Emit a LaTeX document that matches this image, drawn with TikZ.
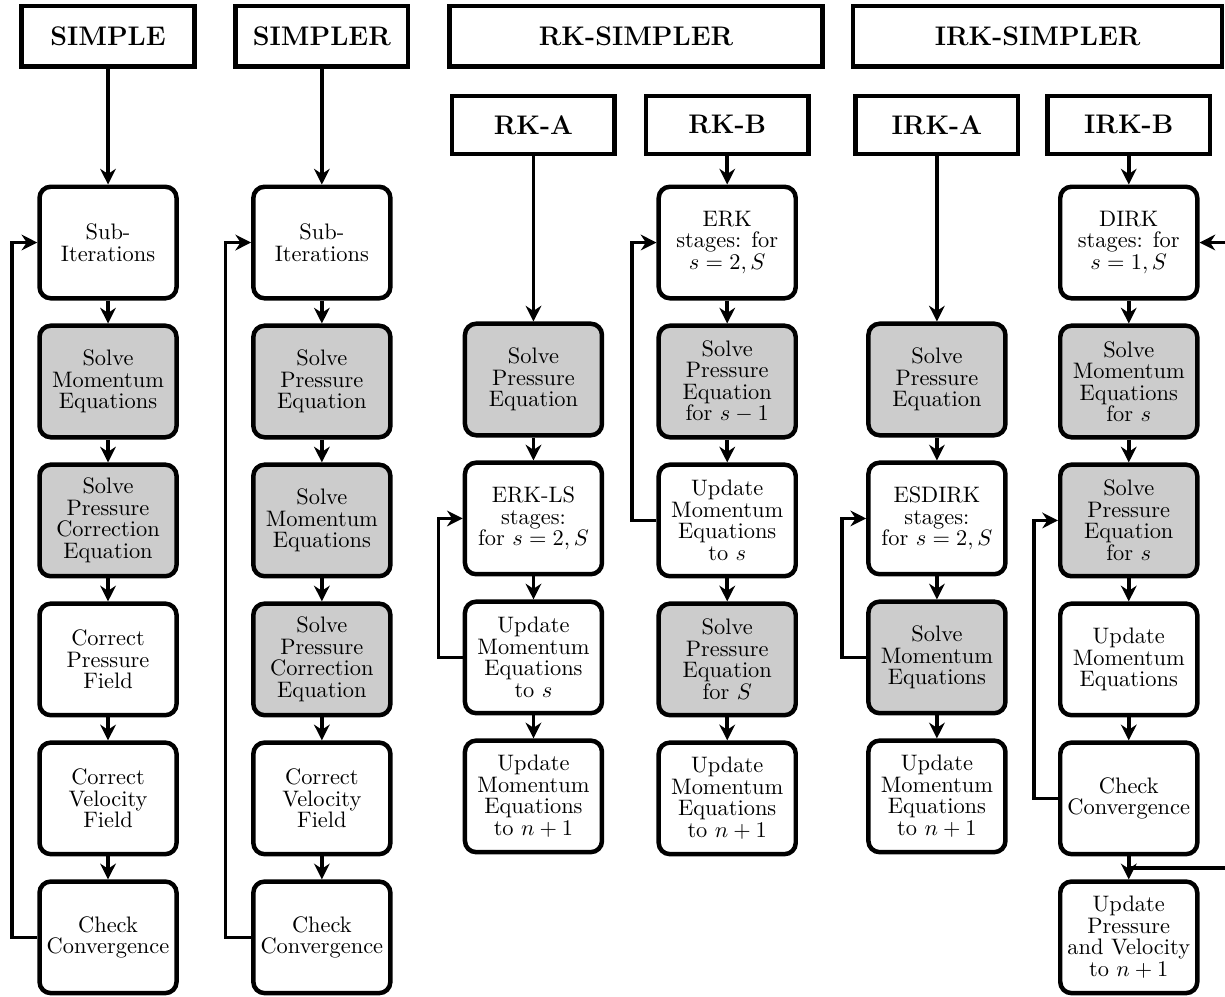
\documentclass[tikz,border=0pt]{standalone}
\usetikzlibrary{shapes.geometric, arrows.meta, positioning}

\begin{document}
\begin{tikzpicture}[node distance=0.36cm, auto]
    % Node styles for clarity
    \tikzstyle{method} = [rectangle, draw, line width=2pt, minimum height=0.95cm, font=\large\bfseries]
    \tikzstyle{variant} = [rectangle, draw, line width=2pt, minimum height=0.91cm, minimum width=2.55cm, font=\large\bfseries]
    \tikzstyle{stepbox} = [rectangle, draw, line width=2pt, rounded corners=5pt, minimum width=2.15cm, minimum height=1.75cm, inner sep=1pt, align=center, font=\linespread{0.8}\selectfont]
    \tikzstyle{solvebox} = [stepbox, fill=gray!40]
    \tikzstyle{flowarrow} = [-{Stealth[length=7pt, width=7pt]}, line width=1.6pt]

    \useasboundingbox (0,0) rectangle (19.22,-15.63);

    % Method headers
    \node (simple) [method, minimum width=2.71cm] at (1.695,-0.565) {SIMPLE};
    \node (simpler) [method, minimum width=2.71cm] at (5.05,-0.565) {SIMPLER};
    \node (rksimpler) [method, minimum width=5.85cm] at (9.98,-0.565) {RK-SIMPLER};
    \node (irksimpler) [method, minimum width=5.79cm] at (16.28,-0.565) {IRK-SIMPLER};
    \node (rka) [variant] at (8.37,-1.96) {RK-A};
    \node (rkb) [variant] at (11.41,-1.96) {RK-B};
    \node (irka) [variant] at (14.70,-1.96) {IRK-A};
    \node (irkb) [variant] at (17.71,-1.96) {IRK-B};

    % SIMPLE
    \node (s1) [stepbox] at (1.695,-3.805) {Sub-\\Iterations};
    \node (s2) [solvebox, below=of s1] {Solve\\Momentum\\Equations};
    \node (s3) [solvebox, below=of s2] {Solve\\Pressure\\Correction\\Equation};
    \node (s4) [stepbox, below=of s3] {Correct\\Pressure\\Field};
    \node (s5) [stepbox, below=of s4] {Correct\\Velocity\\Field};
    \node (s6) [stepbox, below=of s5] {Check\\Convergence};

    % SIMPLER
    \node (r1) [stepbox] at (5.05,-3.805) {Sub-\\Iterations};
    \node (r2) [solvebox, below=of r1] {Solve\\Pressure\\Equation};
    \node (r3) [solvebox, below=of r2] {Solve\\Momentum\\Equations};
    \node (r4) [solvebox, below=of r3] {Solve\\Pressure\\Correction\\Equation};
    \node (r5) [stepbox, below=of r4] {Correct\\Velocity\\Field};
    \node (r6) [stepbox, below=of r5] {Check\\Convergence};

    % RK-A
    \node (ra1) [solvebox] at (8.37,-5.954) {Solve\\Pressure\\Equation};
    \node (ra2) [stepbox, below=of ra1] {ERK-LS\\stages:\\for $s=2,S$};
    \node (ra3) [stepbox, below=of ra2] {Update\\Momentum\\Equations\\to $s$};
    \node (ra4) [stepbox, below=of ra3] {Update\\Momentum\\Equations\\to $n+1$};

    % RK-B
    \node (rb1) [stepbox] at (11.41,-3.805) {ERK\\stages: for\\$s=2,S$};
    \node (rb2) [solvebox, below=of rb1] {Solve\\Pressure\\Equation\\for $s-1$};
    \node (rb3) [stepbox, below=of rb2] {Update\\Momentum\\Equations\\to $s$};
    \node (rb4) [solvebox, below=of rb3] {Solve\\Pressure\\Equation\\for $S$};
    \node (rb5) [stepbox, below=of rb4] {Update\\Momentum\\Equations\\to $n+1$};

    % IRK-A
    \node (ia1) [solvebox] at (14.70,-5.954) {Solve\\Pressure\\Equation};
    \node (ia2) [stepbox, below=of ia1] {ESDIRK\\stages:\\for $s=2,S$};
    \node (ia3) [solvebox, below=of ia2] {Solve\\Momentum\\Equations};
    \node (ia4) [stepbox, below=of ia3] {Update\\Momentum\\Equations\\to $n+1$};

    % IRK-B
    \node (ib1) [stepbox] at (17.71,-3.805) {DIRK\\stages: for\\$s=1,S$};
    \node (ib2) [solvebox, below=of ib1] {Solve\\Momentum\\Equations\\for $s$};
    \node (ib3) [solvebox, below=of ib2] {Solve\\Pressure\\Equation\\for $s$};
    \node (ib4) [stepbox, below=of ib3] {Update\\Momentum\\Equations};
    \node (ib5) [stepbox, below=of ib4] {Check\\Convergence};
    \node (ib6) [stepbox, below=of ib5] {Update\\Pressure\\and Velocity\\to $n+1$};

    % Arrows down each column
    \foreach \a/\b in {simple/s1, s1/s2, s2/s3, s3/s4, s4/s5, s5/s6,
                       simpler/r1, r1/r2, r2/r3, r3/r4, r4/r5, r5/r6,
                       rka/ra1, ra1/ra2, ra2/ra3, ra3/ra4,
                       rkb/rb1, rb1/rb2, rb2/rb3, rb3/rb4, rb4/rb5,
                       irka/ia1, ia1/ia2, ia2/ia3, ia3/ia4,
                       irkb/ib1, ib1/ib2, ib2/ib3, ib3/ib4, ib4/ib5, ib5/ib6}
        \draw[flowarrow] (\a) -- (\b);

    % Loops back
    \draw[flowarrow] (s6.west) -- ++(-0.4,0) |- (s1.west);
    \draw[flowarrow] (r6.west) -- ++(-0.4,0) |- (r1.west);
    \draw[flowarrow] (ra3.west) -- ++(-0.38,0) |- (ra2.west);
    \draw[flowarrow] (rb3.west) -- ++(-0.38,0) |- (rb1.west);
    \draw[flowarrow] (ia3.west) -- ++(-0.38,0) |- (ia2.west);
    \draw[flowarrow] (ib5.west) -- ++(-0.38,0) |- (ib3.west);
    \path (ib5.south) -- (ib6.north) coordinate[midway] (ret);
    \draw[flowarrow] (ret) -| ([xshift=0.6cm]ib1.east) -- (ib1.east);
\end{tikzpicture}
\end{document}
